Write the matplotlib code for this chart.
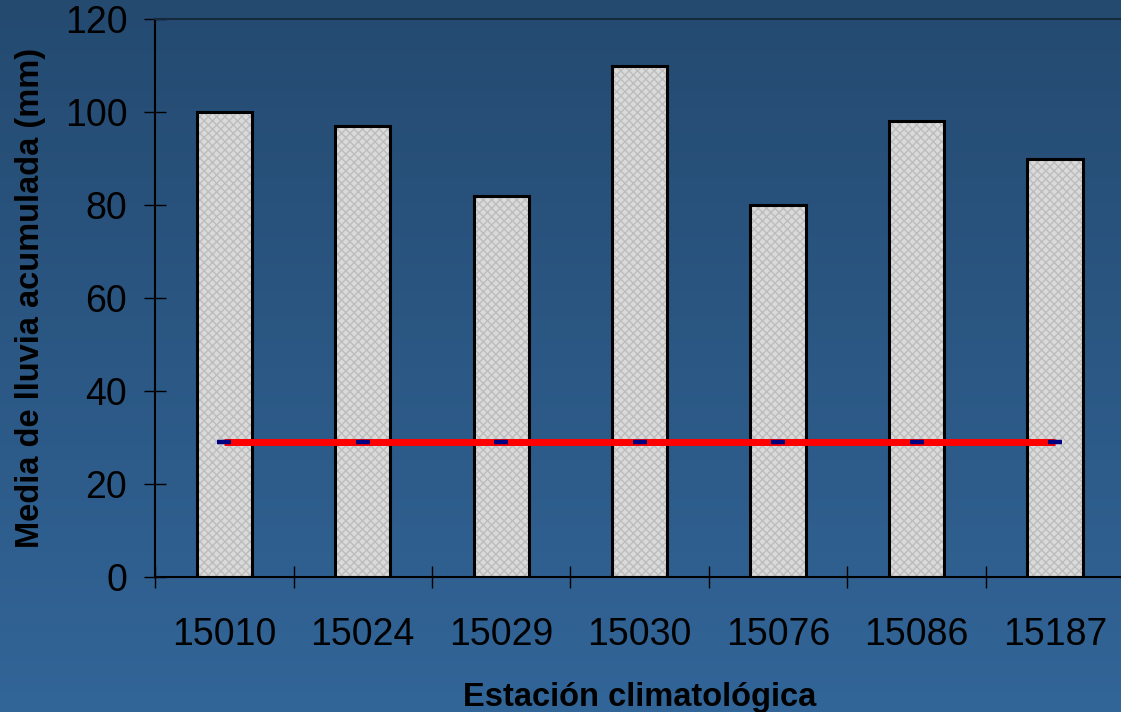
import numpy as np
import matplotlib
matplotlib.use('Agg')
import matplotlib.pyplot as plt
from matplotlib.colors import LinearSegmentedColormap

# rainfall per climate station
estaciones = ['15010', '15024', '15029', '15030', '15076', '15086', '15187']
lluvia_media = [100, 97, 82, 110, 80, 98, 90]
umbral = [29, 29, 29, 29, 29, 29, 29]

plt.rcParams['font.family'] = ['Liberation Sans', 'DejaVu Sans']

fig = plt.figure(figsize=(11.21, 7.12), dpi=100)

# vertical blue gradient behind everything
bg = fig.add_axes([0, 0, 1, 1], zorder=-10)
grad = LinearSegmentedColormap.from_list('fondo', ['#244a70', '#326598'])
bg.imshow(np.linspace(0, 1, 256).reshape(-1, 1), aspect='auto', cmap=grad,
          extent=[0, 1, 0, 1], origin='upper')
bg.axis('off')

ax = fig.add_axes([0.1383, 0.1896, 0.8647, 0.7837])
ax.set_facecolor('none')

x = np.arange(len(estaciones))
ancho = 0.4

# dotted grey fill, then the black outline on top
ax.bar(x, lluvia_media, width=ancho, color='#dadada', edgecolor='#bdbdbd',
       hatch='xxxx', linewidth=0, zorder=2)
ax.bar(x, lluvia_media, width=ancho, fill=False, edgecolor='black',
       linewidth=2.2, zorder=3)

ax.plot(x, umbral, color='#ff0000', linewidth=5, zorder=4,
        solid_capstyle='butt')
ax.plot(x, umbral, linestyle='none', marker='_', markersize=10,
        markeredgewidth=3.2, color='#000080', zorder=5)

ax.set_xlim(-0.5, len(estaciones) - 0.5)
ax.set_ylim(0, 120)
ax.set_yticks(range(0, 121, 20))
ax.set_xticks(x)
ax.set_xticklabels(estaciones)
ax.set_xticks(np.arange(-0.5, len(estaciones) - 0.4, 1), minor=True)

ax.tick_params(axis='x', which='major', length=0, pad=29, labelsize=27)
ax.tick_params(axis='x', which='minor', direction='inout', length=16,
               width=1, color='black')
ax.tick_params(axis='y', direction='inout', length=16, width=1,
               color='black', pad=12, labelsize=27)

for side in ['left', 'bottom', 'top']:
    ax.spines[side].set_color('black')
    ax.spines[side].set_linewidth(1.5)
ax.spines['top'].set_color('#16283c')
ax.spines['right'].set_visible(False)

ax.set_xlabel('Estación climatológica', fontsize=23.5, fontweight='bold')
ax.set_ylabel('Media de lluvia acumulada (mm)', fontsize=23.5,
              fontweight='bold')
ax.xaxis.set_label_coords(0.5, -0.188)
ax.yaxis.set_label_coords(-0.112, 0.5)

fig.savefig('out.png', dpi=100)
